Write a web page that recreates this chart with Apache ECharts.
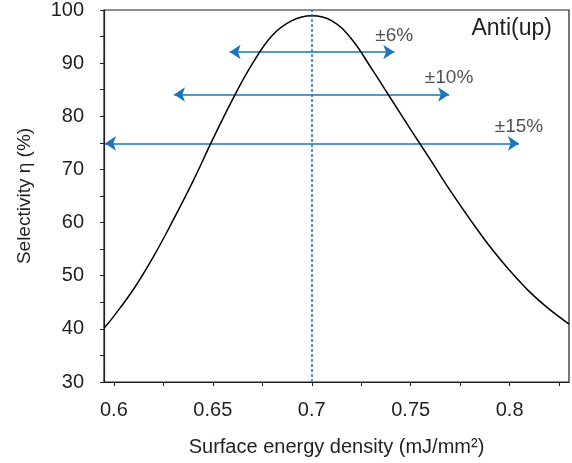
<!DOCTYPE html>
<html>
<head>
<meta charset="utf-8">
<script src="https://cdn.jsdelivr.net/npm/echarts@6/dist/echarts.min.js"></script>
<style>
html, body { margin: 0; padding: 0; background: #fff; }
#chart { width: 572px; height: 463px; }
</style>
</head>
<body>
<div id="chart"></div>
<script>
// selectivity curve
var energyX = [0.595, 0.6, 0.61, 0.62, 0.63, 0.64, 0.65, 0.66, 0.67, 0.68, 0.69, 0.7,
	0.71, 0.72, 0.73, 0.74, 0.75, 0.76, 0.77, 0.78, 0.79, 0.8, 0.81, 0.82, 0.83];
var selectivityY = [40.1, 42.4, 47.5, 53.6, 60.5, 67.8, 75.7, 83.2, 89.9, 95.2, 98.0, 98.9,
	98.0, 94.6, 89.1, 83.3, 77.5, 71.8, 66.0, 60.6, 55.5, 51.0, 47.0, 43.7, 40.9];

// tolerance arrows
var tolNames = ['±6%', '±10%', '±15%'];
var tolLevel = [92.1, 84.1, 74.9];
var tolFrom = [0.6585, 0.6304, 0.5955];
var tolTo = [0.7417, 0.7694, 0.8047];

var peakX = 0.7;
var xTicks = [0.6, 0.625, 0.65, 0.675, 0.7, 0.725, 0.75, 0.775, 0.8, 0.825];
var xLabels = [0.6, 0.65, 0.7, 0.75, 0.8];

var textColor = '#231f20';
var blue = '#1b75bb';
var font = 'Liberation Sans, Arial, sans-serif';

var chart = echarts.init(document.getElementById('chart'));

var curve = [];
for (var i = 0; i < energyX.length; i++) {
	curve.push([energyX[i], selectivityY[i]]);
}
var arrows = [];
var labels = [];
for (var j = 0; j < tolNames.length; j++) {
	arrows.push({ coords: [[tolFrom[j], tolLevel[j]], [tolTo[j], tolLevel[j]]] });
	labels.push({ value: [tolTo[j], tolLevel[j]], name: tolNames[j] });
}

var option = {
	animation: false,
	grid: {
		left: 104,
		right: 3,
		top: 8,
		bottom: 81,
		show: true,
		borderColor: textColor,
		borderWidth: 1.2
	},
	xAxis: {
		type: 'value',
		min: 0.595,
		max: 0.83,
		name: 'Surface energy density (mJ/mm²)',
		nameLocation: 'middle',
		nameGap: 55,
		nameTextStyle: { color: textColor, fontSize: 20, fontFamily: font },
		axisLine: { lineStyle: { color: textColor, width: 1.2 } },
		axisTick: { show: true, length: 4, lineStyle: { color: textColor }, customValues: xTicks },
		axisLabel: { color: textColor, fontSize: 20, fontFamily: font, margin: 18, customValues: xLabels,
			formatter: function (v) { return String(+v.toFixed(3)); } },
		splitLine: { show: false }
	},
	yAxis: {
		type: 'value',
		min: 30,
		max: 100,
		interval: 10,
		name: 'Selectivity η (%)',
		nameLocation: 'middle',
		nameGap: 70,
		nameTextStyle: { color: textColor, fontSize: 19, fontFamily: font },
		axisLine: { show: true, lineStyle: { color: textColor, width: 1.2 } },
		axisTick: { show: true, length: 4, lineStyle: { color: textColor } },
		minorTick: { show: true, splitNumber: 2, length: 4, lineStyle: { color: textColor } },
		axisLabel: { color: textColor, fontSize: 20, fontFamily: font, margin: 20 },
		splitLine: { show: false }
	},
	graphic: [{
		type: 'text',
		right: 20,
		top: 17,
		style: { text: 'Anti(up)', fill: textColor, fontSize: 23, fontFamily: font }
	}],
	series: [{
		type: 'line',
		data: curve,
		smooth: 0.4,
		showSymbol: false,
		lineStyle: { color: '#000', width: 1.5 },
		markLine: {
			silent: true,
			symbol: 'none',
			label: { show: false },
			lineStyle: { color: blue, type: [3, 2], width: 1.5 },
			data: [{ xAxis: peakX }]
		}
	}, {
		type: 'lines',
		coordinateSystem: 'cartesian2d',
		symbol: ['arrow', 'arrow'],
		symbolSize: 11,
		lineStyle: { color: blue, width: 1.6, opacity: 1 },
		data: arrows
	}, {
		type: 'scatter',
		symbolSize: 0,
		data: labels,
		label: {
			show: true,
			position: 'top',
			distance: 7,
			color: textColor,
			fontSize: 19,
			fontFamily: font,
			formatter: function (p) { return p.name; }
		}
	}]
};
chart.setOption(option);
</script>
</body>
</html>
